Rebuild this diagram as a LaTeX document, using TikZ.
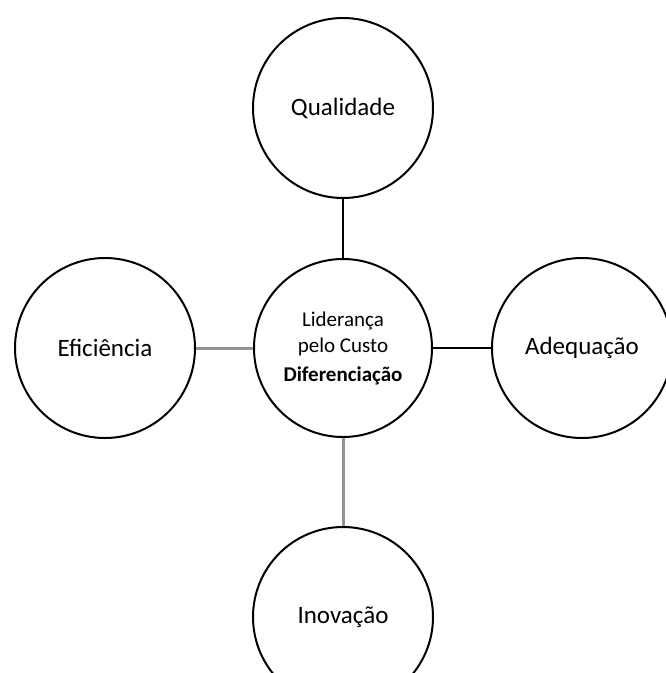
\documentclass[tikz,border=0pt]{standalone}
\usepackage{fontspec}
\setmainfont{Carlito}
\begin{document}
\begin{tikzpicture}[x=1pt,y=-1pt,
  ring/.style={circle,draw=black,line width=2pt,fill=white,minimum size=#1,inner sep=0pt,align=center},
  ring/.default=180pt,
  outerlabel/.style={font=\fontsize{25}{28}\selectfont},
  link/.style={line width=2.6pt,draw=black},
  greylink/.style={line width=3pt,draw=gray!85}]
\useasboundingbox (0,0) rectangle (665,673);
\node[ring=180pt,outerlabel] (qual) at (343,108) {Qualidade};
\node[ring=180pt,outerlabel] (efic) at (105,348) {Eficiência};
\node[ring=180pt,outerlabel] (adeq) at (582,348) {Adequação};
\node[ring=180pt,outerlabel] (inov) at (343,617) {Inovação};
\node[ring=178pt,font=\fontsize{21}{26}\selectfont] (core) at (343,348)
  {Liderança\\pelo Custo\\[3pt]\bfseries Diferenciação};
\draw[link] (qual) -- (core);
\draw[link] (core) -- (adeq);
\draw[greylink] (efic) -- (core);
\draw[greylink] (core) -- (inov);
\end{tikzpicture}
\end{document}
